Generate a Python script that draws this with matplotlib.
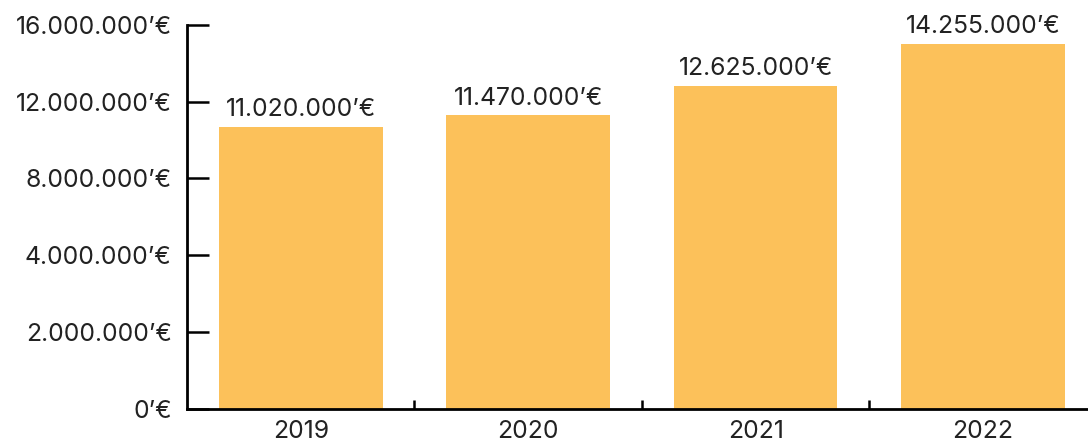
import matplotlib
matplotlib.use("Agg")
import matplotlib.pyplot as plt
from matplotlib.ticker import FixedLocator

years = ["2019", "2020", "2021", "2022"]
revenue = [11020000, 11470000, 12625000, 14255000]
value_labels = ["11.020.000’€", "11.470.000’€", "12.625.000’€", "14.255.000’€"]
ytick_values = [0, 3000000, 6000000, 9000000, 12000000, 15000000]
ytick_labels = ["0’€", "2.000.000’€", "4.000.000’€", "8.000.000’€", "12.000.000’€", "16.000.000’€"]

plt.rcParams['font.family'] = ['Inter', 'DejaVu Sans']
text_color = "#222222"
fs = 17.8

fig = plt.figure(figsize=(10.88, 4.44), dpi=100)
ax = fig.add_axes([187/1088, 1 - 408.5/444, 1 - 187/1088 + 0.008, (408.5 - 25)/444])

x = list(range(len(years)))
ax.bar(x, revenue, width=0.72, color="#FCC15A", zorder=1)

for xi, v, lab in zip(x, revenue, value_labels):
    ax.annotate(lab, (xi, v), xytext=(0, 4), textcoords="offset points",
                ha="center", va="bottom", fontsize=fs, color=text_color,
                annotation_clip=False)

ax.set_xlim(-0.5, 3.5)
ax.set_ylim(0, 15000000)

ax.yaxis.set_major_locator(FixedLocator(ytick_values))
ax.set_yticklabels(ytick_labels)
ax.set_xticks(x)
ax.set_xticklabels(years)
ax.set_xticks([0.5, 1.5, 2.5], minor=True)

for s in ["top", "right"]:
    ax.spines[s].set_visible(False)
for s in ["left", "bottom"]:
    ax.spines[s].set_linewidth(2.0)
    ax.spines[s].set_color("black")
    ax.spines[s].set_zorder(3)

ax.tick_params(axis="y", direction="in", length=16, width=1.8, pad=11,
               labelsize=fs, labelcolor=text_color, colors="black")
ax.tick_params(axis="x", which="major", length=0, pad=8,
               labelsize=fs, labelcolor=text_color)
ax.tick_params(axis="x", which="minor", direction="in", length=6.5, width=1.8, colors="black")

fig.savefig("out.png", dpi=100)
